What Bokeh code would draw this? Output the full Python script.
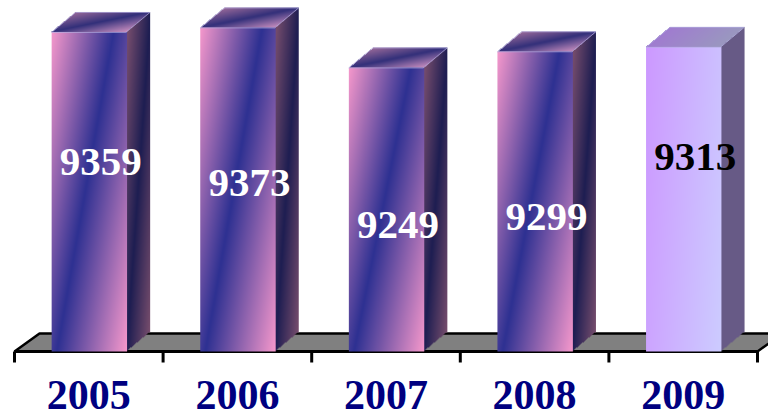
import numpy as np
from bokeh.plotting import figure
from bokeh.models import ColumnDataSource
from bokeh.core.properties import value
from bokeh.embed import file_html
from bokeh.resources import INLINE

# ---------------- data ----------------
years = ["2005", "2006", "2007", "2008", "2009"]
counts = [9359, 9373, 9249, 9299, 9313]

# ---------------- style ----------------
label_colors = ["white", "white", "white", "white", "black"]
label_dy = [-30, -7, 15, 15, -42]          # screen-px nudges of value labels
highlight = [False, False, False, False, True]

W, H = 768, 411
Y_BASE = 8370.0          # value at the floor front edge
PX_X = 148.6             # px per category
PX_Y = 0.3226            # px per value unit
xs = -0.5 - 14 / PX_X
xe = xs + W / PX_X
ys = Y_BASE - (H - 351) / PX_Y
ye = ys + H / PX_Y

BAR_W = 0.5
DX_PX, DY_PX = 24.0, 20.0
DX, DY = DX_PX / PX_X, DY_PX / PX_Y
FDX, FDY = 25.0 / PX_X, 18.0 / PX_Y


def rgb(h):
    h = h.lstrip("#")
    return np.array([int(h[i:i + 2], 16) for i in (0, 2, 4)], dtype=float)


def ramp(t, stops):
    pos = [s[0] for s in stops]
    cols = np.array([rgb(s[1]) for s in stops])
    return np.stack([np.interp(t, pos, cols[:, c]) for c in range(3)], axis=-1)


FRONT = [(0, "#F598CC"), (0.47, "#2E3192"), (1, "#F598CC")]
SIDE = [(0, "#7A4F6E"), (0.5, "#1E1E52"), (1, "#7A4F6E")]
TOP = [(0, "#9A6A9A"), (0.5, "#33307A"), (1, "#C98FC0")]
H_FRONT = [(0, "#CC99FF"), (1, "#CCCCFF")]
H_SIDE = [(0, "#675A86"), (1, "#675A86")]
H_TOP = [(0, "#A07CD0"), (1, "#9A98C0")]

S = 2  # supersampling


def bar_image(v, hl):
    wf = BAR_W * PX_X
    hf = (v - Y_BASE) * PX_Y
    n = int(np.ceil((wf + DX_PX) * S))
    m = int(np.ceil((hf + DY_PX) * S))
    px = (np.arange(n) + 0.5) / S
    py = (np.arange(m) + 0.5) / S
    PXg, PYg = np.meshgrid(px, py)
    front = (PXg < wf) & (PYg < hf)
    s = PXg - wf
    lower = s * DY_PX / DX_PX
    side = (~front) & (s >= 0) & (s < DX_PX) & (PYg >= lower) & (PYg < hf + lower)
    q = PYg - hf
    shift = q * DX_PX / DY_PX
    top = (~front) & (~side) & (q >= 0) & (q < DY_PX) & (PXg >= shift) & (PXg < wf + shift)

    col = np.zeros((m, n, 3))
    if hl:
        tf = (PXg / wf + 0.3 * (1 - PYg / hf)) / 1.3
        col[front] = ramp(np.clip(tf[front], 0, 1), H_FRONT)
        col[side] = ramp(np.zeros(side.sum()), H_SIDE)
        a = (PXg - shift) / wf
        col[top] = ramp(np.clip(a[top], 0, 1), H_TOP)
    else:
        tf = (PXg / wf + 0.76 * (1 - PYg / hf)) / 1.76
        col[front] = ramp(np.clip(tf[front], 0, 1), FRONT)
        sf = s / DX_PX
        yts = 1 - (PYg - lower) / hf
        ts = (sf + yts) / 2
        col[side] = ramp(np.clip(ts[side], 0, 1), SIDE)
        a = (PXg - shift) / wf
        b = q / DY_PX
        tt = (a - b + 1) / 2
        col[top] = ramp(np.clip(tt[top], 0, 1), TOP)

    img = np.zeros((m, n), dtype=np.uint32)
    view = img.view(dtype=np.uint8).reshape((m, n, 4))
    view[..., 0] = col[..., 0].astype(np.uint8)
    view[..., 1] = col[..., 1].astype(np.uint8)
    view[..., 2] = col[..., 2].astype(np.uint8)
    view[..., 3] = np.where(front | side | top, 255, 0).astype(np.uint8)
    return img, n / S / PX_X, m / S / PX_Y


p = figure(width=W, height=H, x_range=(xs, xe), y_range=(ys, ye),
           x_axis_type=None, y_axis_type=None, toolbar_location=None,
           output_backend="svg", min_border=0)
p.outline_line_color = None
p.grid.visible = False
p.background_fill_color = "white"
p.border_fill_color = "white"

ncat = len(years)
xpos = list(range(ncat))

# floor
x_lo, x_hi = -0.5, ncat - 0.5
p.patch([x_lo, x_hi, x_hi + FDX, x_lo + FDX],
        [Y_BASE, Y_BASE, Y_BASE + FDY, Y_BASE + FDY],
        fill_color="#808080", line_color="black", line_width=2.5)
p.segment(x0=[x_lo], y0=[Y_BASE], x1=[x_hi], y1=[Y_BASE], line_color="black", line_width=3)

# bars
imgs, dws, dhs, lefts = [], [], [], []
for i, v in enumerate(counts):
    img, dw, dh = bar_image(v, highlight[i])
    imgs.append(img)
    dws.append(dw)
    dhs.append(dh)
    lefts.append(i - BAR_W / 2)
p.image_rgba(image=imgs, x=lefts, y=[Y_BASE] * ncat, dw=dws, dh=dhs)

bars = ColumnDataSource(dict(x=xpos, top=counts))
p.vbar(x="x", top="top", bottom=Y_BASE, width=BAR_W, source=bars,
       fill_alpha=0, line_color=None)

# light edges of top faces
top_xs, top_ys = [], []
for i, v in enumerate(counts):
    l, r = i - BAR_W / 2, i + BAR_W / 2
    top_xs.append([l, r, r + DX, l + DX])
    top_ys.append([v, v, v + DY, v + DY])
p.patches(top_xs, top_ys, fill_alpha=0, line_color="#b4aee0", line_width=1, line_alpha=0.7)

# ticks
bounds = [x_lo + k for k in range(ncat + 1)]
p.segment(x0=bounds, y0=[Y_BASE] * len(bounds), x1=bounds,
          y1=[Y_BASE - 11 / PX_Y] * len(bounds), line_color="black", line_width=3)

# value labels
labels = ColumnDataSource(dict(
    x=[i + DX / 2 for i in xpos],
    y=[(Y_BASE + v) / 2 for v in counts],
    text=[str(v) for v in counts],
    color=label_colors,
    dy=label_dy,
))
p.text(x="x", y="y", text="text", source=labels, text_color="color", y_offset="dy",
       text_font=value("Liberation Serif"), text_font_style="bold",
       text_font_size="41px", text_align="center", text_baseline="middle")

# category labels
cats = ColumnDataSource(dict(x=xpos, y=[Y_BASE - 43 / PX_Y] * ncat, text=years))
p.text(x="x", y="y", text="text", source=cats, text_color="#000080",
       text_font=value("Liberation Serif"), text_font_style="bold",
       text_font_size="42px", text_align="center", text_baseline="middle")

open("out.html", "w").write(file_html(p, INLINE))
